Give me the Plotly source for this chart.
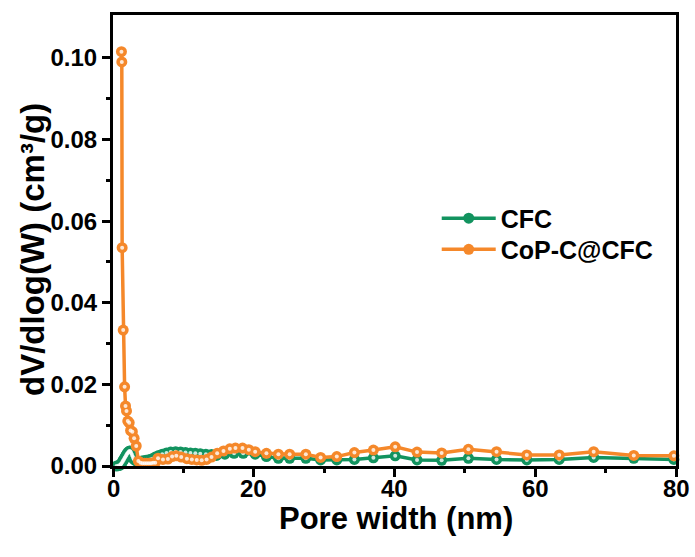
import plotly.graph_objects as go

# Pore size distribution (dV/dlog(W)) for the two samples
cfc_width = [0.5, 0.8, 1.0, 1.1, 1.2, 1.3, 1.4, 1.5, 1.6, 1.7, 1.8, 1.9, 2.0, 2.1, 2.2, 2.3, 2.4,
             2.5, 2.6, 2.7, 2.8, 2.9, 3.0, 3.2, 3.4, 3.6, 3.8, 4.1, 4.4, 4.7, 5.0, 5.3, 5.6,
             6.0, 6.5, 7.0, 7.6, 8.2, 8.9, 9.6, 10.3, 11.0, 11.7, 12.4, 13.2, 14.0, 14.7,
             15.9, 17.2, 18.5, 20.2, 21.8, 23.5, 25.1, 27.4, 29.5, 31.8, 34.3, 37.0, 40.1,
             43.2, 46.7, 50.5, 54.5, 58.8, 63.4, 68.3, 74.0, 79.7]
cfc_dv = [0.0000, 0.0001, 0.0002, 0.0004, 0.0006, 0.0009, 0.0012, 0.0015, 0.0018, 0.0021, 0.0024,
          0.0027, 0.0030, 0.0032, 0.0034, 0.0036, 0.0037, 0.0035, 0.0031, 0.0027, 0.0023, 0.0019,
          0.0016, 0.0013, 0.0012, 0.0011, 0.0011, 0.0012, 0.0013, 0.0014, 0.0015, 0.0016, 0.0018,
          0.0022, 0.0026, 0.0029, 0.0032, 0.0034, 0.0035, 0.0034, 0.0033, 0.0032, 0.0031, 0.0030,
          0.0029, 0.0028, 0.0026, 0.0029, 0.0031, 0.0031, 0.0029, 0.0023, 0.0019, 0.0019, 0.0019,
          0.0015, 0.0015, 0.0016, 0.0020, 0.0025, 0.0015, 0.0014, 0.0019, 0.0016, 0.0015, 0.0016,
          0.0021, 0.0019, 0.0016]

cop_width = [1.20, 1.25, 1.30, 1.45, 1.65, 1.78, 1.92, 2.10, 2.30, 2.50, 2.75, 3.00, 3.30,
             3.60, 3.90, 4.20, 4.50, 4.80, 5.10, 5.40, 5.70, 6.00, 6.40, 7.10, 7.80, 8.40,
             9.00, 9.70, 10.5, 11.2, 11.9, 12.6, 13.3, 14.0, 14.8, 15.7, 16.6, 17.4, 18.4,
             19.3, 20.2, 21.8, 23.5, 25.1, 27.4, 29.5, 31.8, 34.3, 37.0, 40.1, 43.2, 46.7,
             50.5, 54.5, 58.8, 63.4, 68.3, 74.0, 79.7]
cop_dv = [0.1015, 0.0990, 0.0535, 0.0333, 0.0194, 0.0147, 0.0135, 0.0110, 0.0106, 0.0087,
          0.0084, 0.0068, 0.0049, 0.0012, 0.0008, 0.0007, 0.0007, 0.0007, 0.0007, 0.0007,
          0.0008, 0.0008, 0.0019, 0.0016, 0.0017, 0.0023, 0.0025, 0.0022, 0.0018, 0.0016,
          0.0015, 0.0014, 0.0016, 0.0022, 0.0031, 0.0037, 0.0042, 0.0044, 0.0044, 0.0040,
          0.0035, 0.0031, 0.0029, 0.0029, 0.0029, 0.0021, 0.0023, 0.0033, 0.0039, 0.0047,
          0.0034, 0.0032, 0.0041, 0.0035, 0.0027, 0.0027, 0.0035, 0.0026, 0.0025]

x_ticks = [0, 20, 40, 60, 80]
x_tick_labels = ["0", "20", "40", "60", "80"]
y_ticks = [0, 0.02, 0.04, 0.06, 0.08, 0.10]
x_title = "Pore width (nm)"
y_title = "dV/dlog(W) (cm³/g)"

GREEN = "#12935f"
ORANGE = "#f5882a"
FONT = "Liberation Sans, Arial, sans-serif"

fig = go.Figure()

for name, xs, ys, color, leg in [("CFC", cfc_width, cfc_dv, GREEN, "legend"),
                                 ("CoP-C@CFC", cop_width, cop_dv, ORANGE, "legend2")]:
    fig.add_trace(go.Scatter(
        x=xs, y=ys, name=name, mode="lines+markers", legend=leg,
        line=dict(color=color, width=3.5),
        marker=dict(color=color, size=11, line=dict(width=0)),
        cliponaxis=False,
    ))
    # glossy highlight on each marker
    fig.add_trace(go.Scatter(
        x=xs, y=ys, mode="markers", showlegend=False, hoverinfo="skip",
        marker=dict(color="rgba(255,255,255,0.8)", size=4, line=dict(width=0)),
        cliponaxis=False,
    ))

axis_common = dict(
    ticks="outside", ticklen=8, tickwidth=2.5, tickcolor="black",
    showline=True, linewidth=3, linecolor="black", mirror=True,
    showgrid=False, zeroline=False,
    tickfont=dict(family=FONT, size=24, color="black", weight="bold"),
)
fig.update_xaxes(
    range=[0, 80], tickvals=x_ticks, showticklabels=False,
    minor=dict(tickvals=[10, 30, 50, 70], ticks="outside", ticklen=4,
               tickwidth=2.5, tickcolor="black"),
    **axis_common,
)
fig.update_yaxes(
    range=[0, 0.1105], tickvals=y_ticks, tickformat=".2f",
    minor=dict(tickvals=[0.01, 0.03, 0.05, 0.07, 0.09], ticks="outside", ticklen=4,
               tickwidth=2.5, tickcolor="black"),
    **axis_common,
)

# x tick labels placed just under the axis
tick_font = dict(family=FONT, size=24, color="black", weight="bold")
for v, lab in zip(x_ticks, x_tick_labels):
    fig.add_annotation(text=lab, x=v, xref="x", y=-0.050, yref="paper",
                       xanchor="center", yanchor="middle", showarrow=False,
                       font=tick_font)

title_font = dict(family=FONT, size=31, color="black", weight="bold")
fig.add_annotation(text=x_title, xref="paper", yref="paper", x=0.503, y=-0.116,
                   xanchor="center", yanchor="middle", showarrow=False, font=title_font)
fig.add_annotation(text=y_title, xref="paper", yref="paper", x=-0.142, y=0.479,
                   xanchor="center", yanchor="middle", textangle=-90,
                   showarrow=False, font=dict(family=FONT, size=33, color="black",
                                              weight="bold"))

legend_common = dict(xanchor="left", yanchor="top", bgcolor="rgba(0,0,0,0)",
                     itemwidth=54, tracegroupgap=0,
                     font=dict(family=FONT, size=25, color="black", weight="bold"))
fig.update_layout(
    width=695, height=557,
    margin=dict(l=113, r=19, t=15, b=91, autoexpand=False),
    plot_bgcolor="white", paper_bgcolor="white",
    showlegend=True,
    legend=dict(x=0.575, y=0.60, **legend_common),
    legend2=dict(x=0.575, y=0.531, **legend_common),
)

fig.write_html("out.html")
